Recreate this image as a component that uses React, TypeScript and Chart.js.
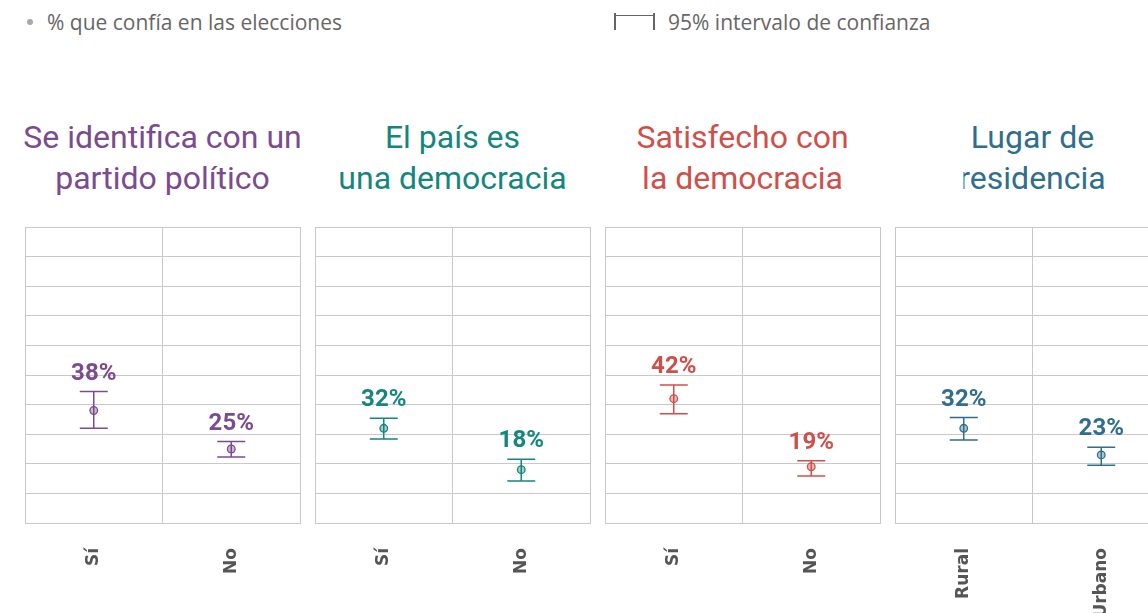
import React, { useEffect, useRef } from 'react';
import { Chart, registerables } from 'chart.js';

Chart.register(...registerables);

// ---- data ----
const panelTitles: string[][] = [
  ['Se identifica con un', 'partido político'],
  ['El país es', 'una democracia'],
  ['Satisfecho con', 'la democracia'],
  ['Lugar de', 'residencia'],
];
const panelColors = ['#7b4b8f', '#13877e', '#cf4f4b', '#2f6e8d'];
const categories: string[][] = [
  ['Sí', 'No'],
  ['Sí', 'No'],
  ['Sí', 'No'],
  ['Rural', 'Urbano'],
];
const values: number[][] = [
  [0.38, 0.25],
  [0.32, 0.18],
  [0.42, 0.19],
  [0.32, 0.23],
];
const lowerCI: number[][] = [
  [0.32, 0.223],
  [0.284, 0.142],
  [0.369, 0.159],
  [0.28, 0.195],
];
const upperCI: number[][] = [
  [0.444, 0.275],
  [0.354, 0.215],
  [0.466, 0.21],
  [0.356, 0.256],
];
const legendPoint = '% que confía en las elecciones';
const legendCI = '95% intervalo de confianza';

const gridColor = '#c9c9c9';
const PANEL_PITCH = 290;
const CANVAS_W = 290;
const CANVAS_H = 613;

function hexA(hex: string, a: number) {
  const r = parseInt(hex.slice(1, 3), 16);
  const g = parseInt(hex.slice(3, 5), 16);
  const b = parseInt(hex.slice(5, 7), 16);
  return `rgba(${r},${g},${b},${a})`;
}

function Panel({ idx }: { idx: number }) {
  const ref = useRef<HTMLCanvasElement | null>(null);
  useEffect(() => {
    if (!ref.current) return;
    const color = panelColors[idx];
    const lo = lowerCI[idx];
    const hi = upperCI[idx];
    const vals = values[idx];
    const errPlugin = {
      id: 'errBars' + idx,
      beforeDatasetsDraw(chart: any) {
        const { ctx } = chart;
        const x = chart.scales.x;
        const y = chart.scales.y;
        ctx.save();
        ctx.strokeStyle = color;
        ctx.lineWidth = 1.5;
        lo.forEach((l, i) => {
          const px = x.getPixelForValue(i);
          const yl = y.getPixelForValue(l);
          const yh = y.getPixelForValue(hi[i]);
          ctx.beginPath();
          ctx.moveTo(px, yl);
          ctx.lineTo(px, yh);
          ctx.moveTo(px - 14, yh);
          ctx.lineTo(px + 14, yh);
          ctx.moveTo(px - 14, yl);
          ctx.lineTo(px + 14, yl);
          ctx.stroke();
        });
        ctx.restore();
      },
      afterDatasetsDraw(chart: any) {
        const { ctx } = chart;
        const x = chart.scales.x;
        const y = chart.scales.y;
        ctx.save();
        ctx.fillStyle = color;
        ctx.font = 'bold 24px Roboto';
        ctx.textAlign = 'center';
        ctx.textBaseline = 'alphabetic';
        vals.forEach((v, i) => {
          const px = x.getPixelForValue(i);
          const yh = y.getPixelForValue(hi[i]);
          ctx.fillText(Math.round(v * 100) + '%', px, yh - 12);
        });
        ctx.restore();
      },
    };
    const chart = new Chart(ref.current, {
      type: 'line',
      data: {
        labels: categories[idx],
        datasets: [
          {
            data: vals,
            showLine: false,
            pointRadius: 3.8,
            pointBorderWidth: 1.3,
            pointBackgroundColor: hexA(color, 0.4),
            pointBorderColor: color,
          },
        ],
      },
      options: {
        responsive: false,
        animation: false,
        layout: { padding: { top: 227, left: 7, right: 8, bottom: 0 } },
        plugins: {
          legend: { display: false },
          tooltip: { enabled: false },
          title: { display: false },
        },
        scales: {
          x: {
            type: 'category',
            offset: true,
            grid: { offset: true, color: gridColor, lineWidth: 1, drawTicks: false },
            border: { display: true, color: gridColor },
            ticks: {
              minRotation: 90,
              maxRotation: 90,
              padding: 25,
              color: '#555555',
              font: { family: 'DejaVu Sans', weight: 'bold', size: 17 },
            },
            afterFit: (s: any) => {
              s.height = 90;
            },
          },
          y: {
            min: 0,
            max: 1,
            ticks: { display: false, stepSize: 0.1 },
            grid: { color: gridColor, lineWidth: 1, drawTicks: false },
            border: { display: true, color: gridColor },
          },
        },
      },
      plugins: [errPlugin],
    } as any);
    return () => chart.destroy();
  }, [idx]);
  return (
    <canvas
      ref={ref}
      width={CANVAS_W}
      height={CANVAS_H}
      style={{ position: 'absolute', left: 18 + idx * PANEL_PITCH, top: 0, width: CANVAS_W, height: CANVAS_H }}
    />
  );
}

const legendFont = '21px "Open Sans"';

export default function App() {
  return (
    <div
      style={{
        position: 'fixed',
        left: 0,
        top: 0,
        width: 1148,
        height: 613,
        overflow: 'hidden',
        background: '#ffffff',
      }}
    >
      {/* legend */}
      <div style={{ position: 'absolute', left: 27, top: 19, width: 6, height: 6, borderRadius: 3, background: '#a8a8a8' }} />
      <div
        style={{
          position: 'absolute',
          left: 47,
          top: 8,
          font: legendFont,
          color: '#666666',
          whiteSpace: 'nowrap',
          lineHeight: '28px',
        }}
      >
        {legendPoint}
      </div>
      <div style={{ position: 'absolute', left: 614, top: 13, width: 2, height: 17, background: '#666666' }} />
      <div style={{ position: 'absolute', left: 653, top: 13, width: 2, height: 17, background: '#666666' }} />
      <div style={{ position: 'absolute', left: 615, top: 14.5, width: 39, height: 1.5, background: '#666666' }} />
      <div
        style={{
          position: 'absolute',
          left: 668,
          top: 8,
          font: legendFont,
          color: '#666666',
          whiteSpace: 'nowrap',
          lineHeight: '28px',
        }}
      >
        {legendCI}
      </div>
      {/* titles */}
      {panelTitles.map((t, i) => (
        <div
          key={'t' + i}
          style={{
            position: 'absolute',
            left: 162.5 + i * PANEL_PITCH - 170,
            width: 340,
            top: 117,
            textAlign: 'center',
            font: '32px Roboto',
            lineHeight: '41px',
            color: panelColors[i],
            whiteSpace: 'nowrap',
            clipPath: i === 3 ? 'inset(0 0 0 101px)' : undefined,
          }}
        >
          {t[0]}
          <br />
          {t[1]}
        </div>
      ))}
      {panelTitles.map((_, i) => (
        <Panel key={'p' + i} idx={i} />
      ))}
    </div>
  );
}
